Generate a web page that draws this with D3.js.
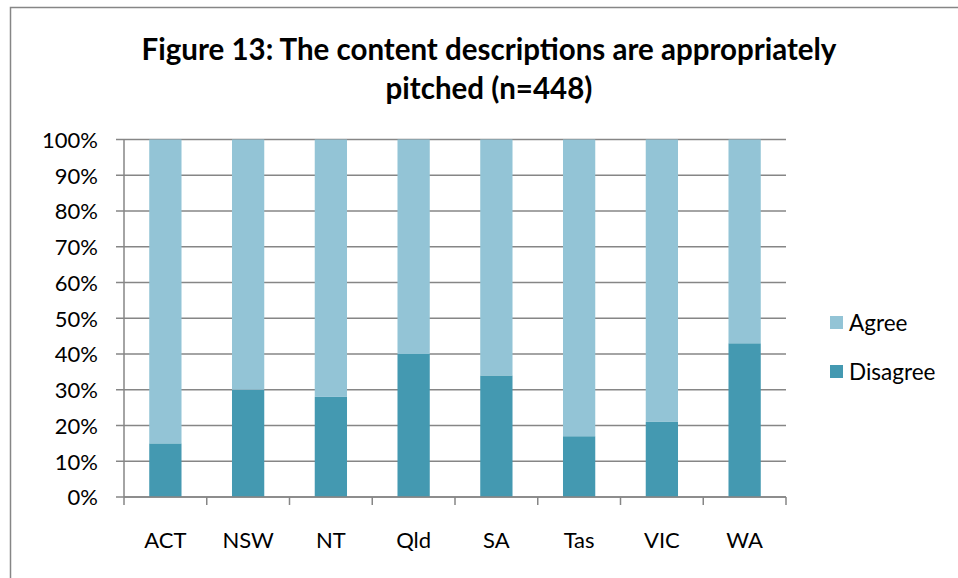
<!DOCTYPE html>
<html>
<head>
<meta charset="utf-8">
<script src="https://cdn.jsdelivr.net/npm/d3@7"></script>
<style>
    body { margin: 0; background: #fff; }
    text { font-family: Lato, "Open Sans", sans-serif; fill: #000; }
</style>
</head>
<body>
<div id="chart"></div>
<script>
// data
const states = ["ACT", "NSW", "NT", "Qld", "SA", "Tas", "VIC", "WA"];
const disagree = [15, 30, 28, 40, 34, 17, 21, 43];
const agree = disagree.map(d => 100 - d);
const seriesNames = ["Disagree", "Agree"];
const yTicks = [0, 10, 20, 30, 40, 50, 60, 70, 80, 90, 100];

const colors = {Agree: "#93c4d6", Disagree: "#4499b1"};

const W = 958, H = 578;
const margin = {top: 139.5, left: 124, right: 172, bottom: 81};
const width = W - margin.left - margin.right;
const height = H - margin.top - margin.bottom;

const svg = d3.select("#chart").append("svg")
    .attr("width", W)
    .attr("height", H);

// chart area border
svg.append("rect")
    .attr("x", 10.5).attr("y", 7.5)
    .attr("width", 1000).attr("height", 700)
    .attr("fill", "none")
    .attr("stroke", "#868686")
    .attr("stroke-width", 1.5);

// title
const title = svg.append("text")
    .attr("text-anchor", "middle")
    .style("font-weight", "bold")
    .style("font-size", "29.5px");
title.append("tspan").attr("x", 489).attr("y", 60).text("Figure 13: The content descriptions are appropriately");
title.append("tspan").attr("x", 489).attr("y", 99).text("pitched (n=448)");

const g = svg.append("g")
    .attr("transform", "translate(" + margin.left + "," + margin.top + ")");

const x = d3.scaleBand()
    .domain(states)
    .range([0, width])
    .paddingInner(0.61)
    .paddingOuter(0.305);

const y = d3.scaleLinear()
    .domain([0, 100])
    .range([height, 0]);

// gridlines
g.append("g")
    .selectAll("line")
    .data(yTicks)
    .enter().append("line")
    .attr("x1", -8).attr("x2", width)
    .attr("y1", d => y(d)).attr("y2", d => y(d))
    .attr("stroke", "#868686")
    .attr("stroke-width", 1.5);

// stacked bars
const rows = states.map((s, i) => ({state: s, Disagree: disagree[i], Agree: agree[i]}));
const stack = d3.stack().keys(seriesNames)(rows);

g.selectAll(".series")
    .data(stack)
    .enter().append("g")
    .attr("class", "series")
    .attr("fill", d => colors[d.key])
    .selectAll("rect")
    .data(d => d)
    .enter().append("rect")
    .attr("x", d => x(d.data.state))
    .attr("width", x.bandwidth())
    .attr("y", d => y(d[1]))
    .attr("height", d => y(d[0]) - y(d[1]));

// y axis
const yAxis = d3.axisLeft(y)
    .tickValues(yTicks)
    .tickFormat(d => d + "%")
    .tickSize(0)
    .tickPadding(26);

g.append("g")
    .attr("class", "y-axis")
    .call(yAxis)
    .call(a => a.select(".domain").remove())
    .call(a => a.selectAll("text").style("font-size", "22px").attr("dy", "0.36em"));

g.append("line")
    .attr("x1", 0).attr("x2", 0)
    .attr("y1", 0).attr("y2", height)
    .attr("stroke", "#868686")
    .attr("stroke-width", 1.5);

// x axis: baseline and category separator ticks
const xg = g.append("g")
    .attr("transform", "translate(0," + height + ")");
xg.append("line")
    .attr("x1", 0).attr("x2", width)
    .attr("stroke", "#868686")
    .attr("stroke-width", 1.5);
const step = x.step();
xg.selectAll(".sep")
    .data(d3.range(states.length + 1))
    .enter().append("line")
    .attr("x1", i => i * step)
    .attr("x2", i => i * step)
    .attr("y1", 0).attr("y2", 8)
    .attr("stroke", "#868686")
    .attr("stroke-width", 1.5);
xg.selectAll(".lab")
    .data(states)
    .enter().append("text")
    .attr("x", d => x(d) + x.bandwidth() / 2)
    .attr("y", 51)
    .attr("text-anchor", "middle")
    .style("font-size", "22px")
    .text(d => d);

// legend
const legend = svg.append("g")
    .attr("transform", "translate(830,316)");
["Agree", "Disagree"].forEach((k, i) => {
    legend.append("rect")
        .attr("x", 0).attr("y", i * 49)
        .attr("width", 13).attr("height", 13)
        .attr("fill", colors[k]);
    legend.append("text")
        .attr("x", 19).attr("y", i * 49 + 15)
        .style("font-size", "22.5px")
        .text(k);
});
</script>
</body>
</html>
